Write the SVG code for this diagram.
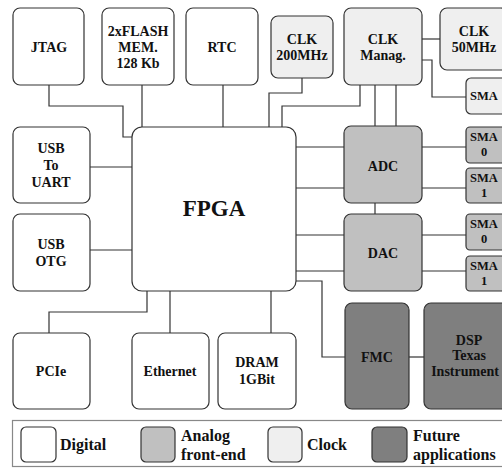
<svg xmlns="http://www.w3.org/2000/svg" width="502" height="468" viewBox="0 0 502 468">
<style>
.n{stroke:#333;stroke-width:1.2}
.d{fill:#fff}.a{fill:#c0c0c0}.c{fill:#efefef}.f{fill:#7f7f7f}
text{font-family:"Liberation Serif","Times New Roman",serif;font-weight:bold;font-size:14px;fill:#111;text-anchor:middle}
.s{font-size:12.5px}
.l{text-anchor:start;font-size:16px}
#conn path{fill:none;stroke:#333;stroke-width:1.2}
</style>
<rect width="502" height="468" fill="#fff"/>
<g id="conn">
<path d="M49 85V106H123V137H132"/>
<path d="M142 85V127"/>
<path d="M223 85V127"/>
<path d="M302 78V93H269V127"/>
<path d="M360 85V106H282V127"/>
<path d="M375 85V126"/>
<path d="M396 85V126"/>
<path d="M422 39H440"/>
<path d="M422 60H432V97H466"/>
<path d="M90 167H132"/>
<path d="M90 250H132"/>
<path d="M296 147H344"/>
<path d="M296 188H344"/>
<path d="M296 235H344"/>
<path d="M296 271H344"/>
<path d="M375 203V214"/>
<path d="M422 147H466"/>
<path d="M422 188H466"/>
<path d="M422 235H466"/>
<path d="M422 271H466"/>
<path d="M296 281H322V357H345"/>
<path d="M409 357H424"/>
<path d="M147 291V312H49V333"/>
<path d="M170 291V333"/>
<path d="M271 291V333"/>
</g>
<g id="jtag"><rect class="n d" x="13" y="8" width="71" height="77" rx="7"/><text x="49" y="52">JTAG</text></g>
<g id="flash"><rect class="n d" x="102" y="8" width="72" height="77" rx="7"/><text x="138" y="36">2xFLASH</text><text x="138" y="52">MEM.</text><text x="138" y="68">128 Kb</text></g>
<g id="rtc"><rect class="n d" x="186" y="8" width="72" height="77" rx="7"/><text x="222" y="52">RTC</text></g>
<g id="clk200"><rect class="n c" x="271" y="16" width="62" height="62" rx="7"/><text x="302" y="44">CLK</text><text x="302" y="60">200MHz</text></g>
<g id="clkmanag"><rect class="n c" x="344" y="8" width="78" height="77" rx="7"/><text x="383" y="44">CLK</text><text x="383" y="60">Manag.</text></g>
<g id="clk50"><rect class="n c" x="440" y="8" width="68" height="62" rx="7"/><text x="474" y="36">CLK</text><text x="474" y="52">50MHz</text></g>
<g id="sma-clk"><rect class="n c" x="466" y="78" width="42" height="36" rx="5"/><text class="s" x="484" y="100">SMA</text></g>
<g id="usbuart"><rect class="n d" x="13" y="127" width="77" height="76" rx="7"/><text x="51" y="153">USB</text><text x="51" y="170">To</text><text x="51" y="187">UART</text></g>
<g id="usbotg"><rect class="n d" x="13" y="214" width="77" height="77" rx="7"/><text x="51" y="249">USB</text><text x="51" y="266">OTG</text></g>
<g id="fpga"><rect class="n d" x="132" y="127" width="164" height="164" rx="10"/><text x="214" y="216" style="font-size:23px">FPGA</text></g>
<g id="adc"><rect class="n a" x="344" y="126" width="78" height="77" rx="7"/><text x="383" y="171">ADC</text></g>
<g id="dac"><rect class="n a" x="344" y="214" width="78" height="77" rx="7"/><text x="383" y="258">DAC</text></g>
<g id="sma-adc0"><rect class="n a" x="466" y="127" width="42" height="36" rx="4"/><text class="s" x="484" y="141">SMA</text><text class="s" x="484" y="156">0</text></g>
<g id="sma-adc1"><rect class="n a" x="466" y="168" width="42" height="35" rx="4"/><text class="s" x="484" y="182">SMA</text><text class="s" x="484" y="197">1</text></g>
<g id="sma-dac0"><rect class="n a" x="466" y="214" width="42" height="36" rx="4"/><text class="s" x="484" y="228">SMA</text><text class="s" x="484" y="243">0</text></g>
<g id="sma-dac1"><rect class="n a" x="466" y="256" width="42" height="35" rx="4"/><text class="s" x="484" y="270">SMA</text><text class="s" x="484" y="285">1</text></g>
<g id="pcie"><rect class="n d" x="13" y="333" width="77" height="76" rx="7"/><text x="51" y="376">PCIe</text></g>
<g id="ethernet"><rect class="n d" x="132" y="333" width="77" height="76" rx="7"/><text x="170" y="376">Ethernet</text></g>
<g id="dram"><rect class="n d" x="218" y="333" width="78" height="76" rx="7"/><text x="257" y="367">DRAM</text><text x="257" y="384">1GBit</text></g>
<g id="fmc"><rect class="n f" x="345" y="303" width="64" height="106" rx="7"/><text x="377" y="362">FMC</text></g>
<g id="dsp"><rect class="n f" x="424" y="303" width="90" height="106" rx="7"/><text x="469" y="345">DSP</text><text x="469" y="360">Texas</text><text x="465" y="376">Instrument</text></g>
<g id="legend">
<rect x="12.5" y="420.5" width="500" height="46" fill="#fff" stroke="#888" stroke-width="1.2"/>
<rect class="n d" x="21" y="427" width="35" height="35" rx="5"/><text class="l" x="60" y="450">Digital</text>
<rect class="n a" x="141" y="427" width="34" height="35" rx="5"/><text class="l" x="181" y="441">Analog</text><text class="l" x="181" y="460">front-end</text>
<rect class="n c" x="268" y="427" width="34" height="35" rx="5"/><text class="l" x="307" y="450">Clock</text>
<rect class="n f" x="372" y="427" width="35" height="35" rx="5"/><text class="l" x="413" y="441">Future</text><text class="l" x="413" y="460">applications</text>
</g>
</svg>
